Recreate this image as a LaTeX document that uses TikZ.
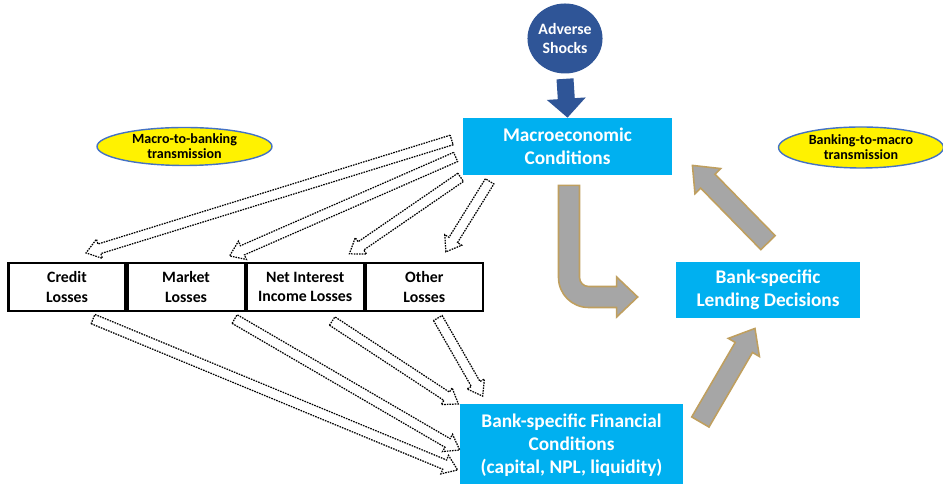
\documentclass[tikz,border=0pt]{standalone}
\usepackage{fontspec}
\setmainfont{Carlito}
\usetikzlibrary{shapes.geometric,positioning,calc}
\definecolor{bkcyan}{HTML}{00B0F0}
\definecolor{bknavy}{HTML}{2F5597}
\definecolor{bkring}{HTML}{4472C4}
\definecolor{bkgray}{HTML}{A6A6A6}
\definecolor{bkgold}{HTML}{BF9F5F}

% block arrow: [style]{from}{to}{half shaft}{half head}{head length}
\newcommand{\blockarrow}[6][]{%
  \path[#1] let \p1=(#2), \p2=(#3),
      \n1={atan2(\y2-\y1,\x2-\x1)}, \n2={veclen(\x2-\x1,\y2-\y1)} in
    {[shift={(\p1)}, rotate=\n1]
    (0,-#4) -- ({\n2-#6},-#4) -- ({\n2-#6},-#5) -- (\n2,0) --
    ({\n2-#6},#5) -- ({\n2-#6},#4) -- (0,#4) -- cycle};}

\begin{document}
\begin{tikzpicture}[
    hollow/.style={draw=black, fill=white, line width=0.7pt, dash pattern=on 0.9pt off 0.6pt},
    grayblock/.style={draw=bkgold, fill=bkgray, line width=0.9pt},
    cyanbox/.style={rectangle, fill=bkcyan, text=white, inner sep=0pt, align=center, font=\fontsize{11}{13}\selectfont\bfseries},
    lossbox/.style={rectangle, draw=black, line width=1.2pt, minimum width=2.34cm, minimum height=0.96cm, inner sep=0pt, align=center, font=\fontsize{9}{11}\selectfont\bfseries},
    tagoval/.style={ellipse, draw=bkring, fill=yellow, line width=0.8pt, inner sep=0pt, align=center, font=\fontsize{8}{8.6}\selectfont\bfseries}]
    \useasboundingbox (0,0) rectangle (18.86,9.68);

    \node[ellipse, fill=bknavy, text=white, minimum width=1.34cm, minimum height=1.4cm, inner sep=0pt, align=center, font=\fontsize{9}{10.8}\selectfont\bfseries] (shocks) at (11.30,8.91) {Adverse\\Shocks};
    \node[cyanbox, minimum width=4.18cm, minimum height=1.14cm] (macro) at (11.35,6.75) {Macroeconomic\\Conditions};
    \node[tagoval, minimum width=3.5cm, minimum height=0.76cm] (mtob) at (3.69,6.75) {Macro-to-banking\\transmission};
    \node[tagoval, minimum width=3.3cm, minimum height=0.82cm] (btom) at (17.22,6.73) {Banking-to-macro\\transmission};

    \node[lossbox] (credit) at (1.34,3.94) {Credit\\Losses};
    \node[lossbox, right=0cm of credit] (market) {Market\\Losses};
    \node[lossbox, right=0cm of market] (nii) {Net Interest\\Income Losses};
    \node[lossbox, right=0cm of nii] (other) {Other\\Losses};

    \node[cyanbox, minimum width=3.68cm, minimum height=1.12cm] (lending) at (15.36,3.88) {Bank-specific\\Lending Decisions};
    \node[cyanbox, minimum width=4.46cm, minimum height=1.62cm] (finance) at (11.43,0.78) {Bank-specific Financial\\Conditions\\(capital, NPL, liquidity)};

    % shock into the macro box
    \blockarrow[fill=bknavy]{[yshift=-0.1cm]shocks.south}{macro.north}{0.17cm}{0.39cm}{0.38cm}

    % macro-to-banking
    \blockarrow[hollow]{[shift={(-0.22,0.13)}]macro.west}{[shift={(0.38,0.18)}]credit.north}{0.1cm}{0.2cm}{0.28cm}
    \blockarrow[hollow]{[shift={(-0.14,-0.21)}]macro.west}{[shift={(0.87,0.12)}]market.north}{0.1cm}{0.2cm}{0.28cm}
    \blockarrow[hollow]{[shift={(-0.04,-0.04)}]macro.south west}{[shift={(0.88,0.16)}]nii.north}{0.1cm}{0.2cm}{0.28cm}
    \blockarrow[hollow]{[shift={(0.54,-0.12)}]macro.south west}{[shift={(0.43,0.2)}]other.north}{0.1cm}{0.2cm}{0.28cm}

    \blockarrow[hollow]{[shift={(0.52,-0.14)}]credit.south}{[shift={(-0.04,-0.5)}]finance.west}{0.1cm}{0.2cm}{0.28cm}
    \blockarrow[hollow]{[shift={(0.97,-0.14)}]market.south}{[shift={(0,-0.1)}]finance.west}{0.1cm}{0.2cm}{0.28cm}
    \blockarrow[hollow]{[shift={(0.54,-0.18)}]nii.south}{[shift={(-0.02,0)}]finance.north west}{0.1cm}{0.2cm}{0.28cm}
    \blockarrow[hollow]{[shift={(0.27,-0.12)}]other.south}{[shift={(0.46,0.16)}]finance.north west}{0.1cm}{0.2cm}{0.28cm}

    % banking-to-macro
    \draw[grayblock] let \p1=([shift={(0.03,-0.2)}]macro.south), \p2=([shift={(-0.76,-0.14)}]lending.west) in
        (\x1-0.21cm,\y1) -- (\x1-0.21cm,\y2+0.39cm) arc[start angle=180, end angle=270, radius=0.6cm]
        -- (\x2-0.42cm,\y2-0.21cm) -- (\x2-0.42cm,\y2-0.4cm) -- (\x2,\y2) -- (\x2-0.42cm,\y2+0.4cm)
        -- (\x2-0.42cm,\y2+0.21cm) -- (\x1+0.39cm,\y2+0.21cm) arc[start angle=270, end angle=180, radius=0.18cm]
        -- (\x1+0.21cm,\y1) -- cycle;
    \blockarrow[grayblock]{[shift={(0,0.38)}]lending.north}{[shift={(0.4,0.2)}]macro.south east}{0.2cm}{0.36cm}{0.44cm}
    \blockarrow[grayblock]{[shift={(0.34,0.46)}]finance.east}{[shift={(-0.26,-0.2)}]lending.south}{0.2cm}{0.36cm}{0.44cm}
\end{tikzpicture}
\end{document}
